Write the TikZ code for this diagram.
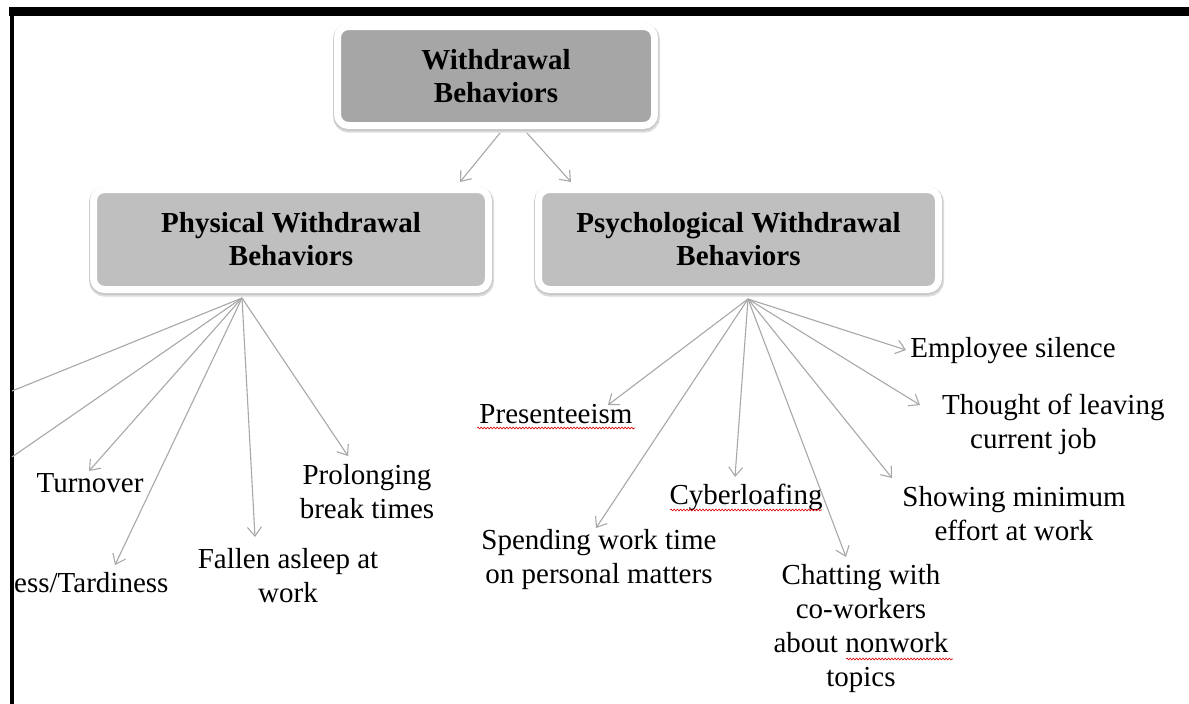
\documentclass[tikz,border=0pt]{standalone}
\usepackage{fontspec}
\setmainfont{Liberation Serif}
\usetikzlibrary{arrows.meta,decorations.pathmorphing}
\definecolor{arrgray}{HTML}{A8A8A8}
\definecolor{topfill}{HTML}{A6A6A6}
\definecolor{subfill}{HTML}{BFBFBF}
\begin{document}
\begin{tikzpicture}[x=1pt,y=-1pt,
  box/.style={rounded corners=11pt, fill=#1, draw=white, line width=7pt,
    preaction={draw=black!14, line width=10pt, transform canvas={yshift=-2.2pt,xshift=0.6pt}},
    preaction={draw=black!22, line width=8.5pt, transform canvas={yshift=-1pt}},
    font=\bfseries\fontsize{29}{33}\selectfont, align=center, inner sep=0pt},
  txt/.style={font=\fontsize{29}{34}\selectfont, inner sep=0pt, align=center},
  arr/.style={draw=arrgray, line width=1.1pt, -{Straight Barb[length=9pt,width=14pt,line width=1.1pt]}},
  ln/.style={draw=arrgray, line width=1.1pt},
  squiggle/.style={draw=red!85!black, line width=0.6pt, decorate,
    decoration={snake, segment length=3.2pt, amplitude=0.9pt}}
]
\useasboundingbox (0,0) rectangle (1189,704);
\fill[white] (0,0) rectangle (1189,704);

% page frame
\fill[black] (9,7) rectangle (1189,16);
\fill[black] (9.5,7) rectangle (14,704);

% boxes
\node[box=topfill, minimum width=317pt, minimum height=99pt] (top) at (496,76)
  {Withdrawal\\Behaviors};
\node[box=subfill, minimum width=395pt, minimum height=100pt] (phys) at (291,239.5)
  {Physical Withdrawal\\Behaviors};
\node[box=subfill, minimum width=400pt, minimum height=100pt] (psych) at (738.5,239.5)
  {Psychological Withdrawal\\Behaviors};

% top arrows
\coordinate (t1) at (500,133);
\coordinate (t2) at (527,133);
\coordinate (p1) at (460,182);
\coordinate (p2) at (571,182);
\draw[arr] (t1) -- (p1);
\draw[arr] (t2) -- (p2);

% physical leaves
\node[txt] (turn) at (90,483) {Turnover};
\node[txt, anchor=west] (tard) at (14,583) {ess/Tardiness};
\node[txt] (fall) at (288,576) {Fallen asleep at\\work};
\node[txt] (prol) at (367,492) {Prolonging\\break times};

\coordinate (ps) at (242,298);
\coordinate (e1) at (12,391);
\coordinate (e2) at (12,457);
\coordinate (turntip) at (89,471);
\coordinate (tardtip) at (115,565);
\coordinate (falltip) at (255,537);
\coordinate (proltip) at (348,456);
\draw[ln] (ps) -- (e1);
\draw[ln] (ps) -- (e2);
\draw[arr] (ps) -- (turntip);
\draw[arr] (ps) -- (tardtip);
\draw[arr] (ps) -- (falltip);
\draw[arr] (ps) -- (proltip);

% psychological leaves
\node[txt] (pres) at (556,414) {Presenteeism};
\node[txt] (spend) at (599,560) {Spending work time\\on personal matters};
\node[txt] (cyber) at (746,497) {Cyberloafing};
\node[txt] (chat) at (861,629) {Chatting with\\co-workers\\about nonwork\\topics};
\node[txt] (show) at (1014,514) {Showing minimum\\effort at work};
\node[txt, align=left, anchor=west] (thought) at (942,424) {Thought of leaving\\\hspace*{28pt}current job};
\node[txt] (empl) at (1013,351) {Employee silence};

\coordinate (qs) at (748,299);
\coordinate (prestip) at (608,405);
\coordinate (spendtip) at (596,528);
\coordinate (cybertip) at (735,477);
\coordinate (chattip) at (846,557);
\coordinate (showtip) at (892,478);
\coordinate (thoughttip) at (920,405);
\coordinate (empltip) at (906,350);
\draw[arr] (qs) -- (prestip);
\draw[arr] (qs) -- (spendtip);
\draw[arr] (qs) -- (cybertip);
\draw[arr] (qs) -- (chattip);
\draw[arr] (qs) -- (showtip);
\draw[arr] (qs) -- (thoughttip);
\draw[arr] (qs) -- (empltip);

% spell-check underlines
\draw[squiggle] (477,428) -- (635,428);
\draw[squiggle] (670,510) -- (822,510);
\draw[squiggle] (846,659) -- (953,659);
\end{tikzpicture}
\end{document}
